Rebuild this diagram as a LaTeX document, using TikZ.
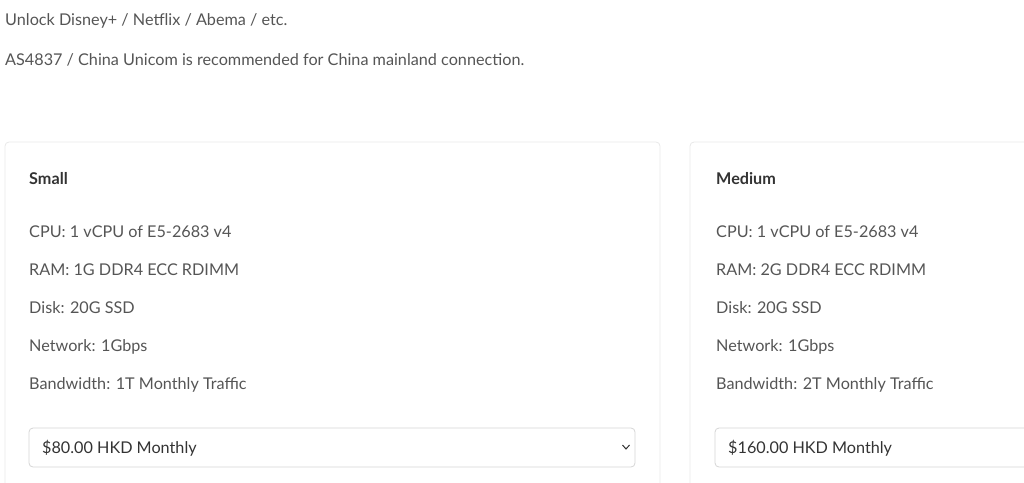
\documentclass[tikz,border=0pt]{standalone}
\usepackage{fontspec}
\setmainfont{Lato}
\usetikzlibrary{positioning}
\definecolor{bodytext}{HTML}{555555}
\definecolor{headtext}{HTML}{333333}
\definecolor{cardline}{HTML}{E8E8E8}
\definecolor{selectline}{HTML}{D5D5D5}
\begin{document}
\begin{tikzpicture}[
			x=1pt, y=-1pt,
			line/.style={anchor=west, inner sep=0pt, text=bodytext, font=\fontsize{16.2}{19}\selectfont},
			heading/.style={anchor=west, inner sep=0pt, text=headtext, font=\fontsize{16.2}{19}\selectfont\bfseries},
			card/.style={draw=cardline, rounded corners=4pt, line width=0.8pt},
			selectbox/.style={draw=selectline, rounded corners=4pt, line width=0.8pt},
			]
			\useasboundingbox (0,0) rectangle (1024,482);
			\clip (0,0) rectangle (1024,482);
			
			\node[line] (intro1) at (5,21) {Unlock Disney+ / Netflix / Abema / etc.};
			\node[line] (intro2) at (5,60) {AS4837 / China Unicom is recommended for China mainland connection.};
			
			% small plan
			\draw[card] (5,142) rectangle (660,500);
			\node[heading] (small) at (29,179) {Small};
			\node[line] (s_cpu) at (29,232) {CPU: 1 vCPU of E5-2683 v4};
			\node[line] (s_ram) at (29,270) {RAM: 1G DDR4 ECC RDIMM};
			\node[line] (s_disk) at (29,308) {Disk: 20G SSD};
			\node[line] (s_net) at (29,347) {Network: 1Gbps};
			\node[line] (s_bw) at (29,385) {Bandwidth: 1T Monthly Traffic};
			\draw[selectbox] (29,428) rectangle (635,467);
			\node[line, text=headtext] (s_price) at (42,448) {\$80.00 HKD Monthly};
			\coordinate (s_chev) at (626,447);
			\draw[headtext, line width=1pt] ([xshift=-3.5pt,yshift=2pt]s_chev) -- ([yshift=-2pt]s_chev) -- ([xshift=3.5pt,yshift=2pt]s_chev);
			
			% medium plan
			\draw[card] (690,142) rectangle (1100,500);
			\node[heading] (medium) at (716,179) {Medium};
			\node[line] (m_cpu) at (716,232) {CPU: 1 vCPU of E5-2683 v4};
			\node[line] (m_ram) at (716,270) {RAM: 2G DDR4 ECC RDIMM};
			\node[line] (m_disk) at (716,308) {Disk: 20G SSD};
			\node[line] (m_net) at (716,347) {Network: 1Gbps};
			\node[line] (m_bw) at (716,385) {Bandwidth: 2T Monthly Traffic};
			\draw[selectbox] (715,428) rectangle (1100,467);
			\node[line, text=headtext] (m_price) at (728,448) {\$160.00 HKD Monthly};
\end{tikzpicture}
\end{document}
